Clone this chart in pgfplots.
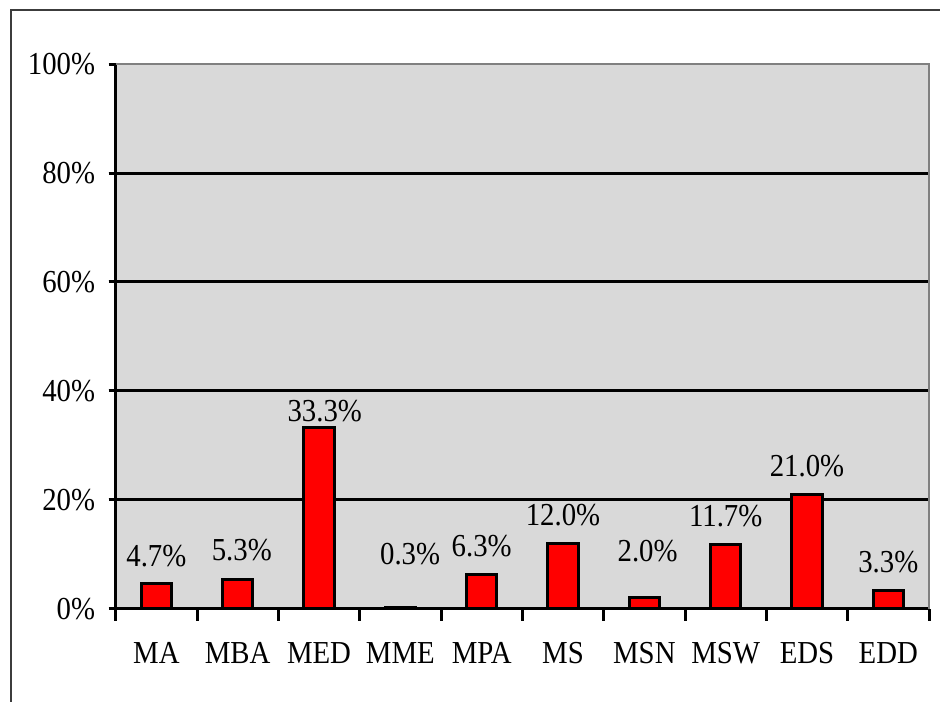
\documentclass[border=0pt]{standalone}
\usepackage{fontspec}
\setmainfont{Liberation Serif}[FakeStretch=0.9]
\usepackage{pgfplots}
\usepackage{pgfplotstable}
\pgfplotsset{compat=1.18}
\definecolor{plotbg}{RGB}{217,217,217}
\definecolor{framegray}{RGB}{60,60,60}
\definecolor{bordergray}{RGB}{128,128,128}
\pgfplotstableread{
x   v
0   4.7
1   5.3
2   33.3
3   0.3
4   6.3
5   12.0
6   2.0
7   11.7
8   21.0
9   3.3
}\bardata
\pgfplotstableread{
lx    ly     v
0.00  7.84   4.7
1.05  8.94   5.3
2.07  34.34  33.3
3.12  8.03   0.3
4.00  9.55   6.3
5.00  15.37  12.0
6.04  8.63   2.0
7.00  15.06  11.7
8.00  24.24  21.0
9.00  6.61   3.3
}\labeldata
\begin{document}
\begin{tikzpicture}
\path[use as bounding box] (0,0) rectangle (470bp,351bp);
\draw[framegray, line width=1bp] (5.5bp,0) -- (5.5bp,346bp) -- (470bp,346bp);
\begin{axis}[
  at={(57.85bp,46.65bp)}, anchor=south west,
  scale only axis, width=406.65bp, height=272.25bp,
  xmin=-0.5, xmax=9.5, ymin=0, ymax=100,
  axis background/.style={fill=plotbg},
  axis x line*=bottom, axis y line*=left,
  axis line style={-, black, line width=1.5bp},
  xtick={0,...,9},
  xticklabels={MA,MBA,MED,MME,MPA,MS,MSN,MSW,EDS,EDD},
  minor xtick={-0.5,0.5,...,9.5},
  ytick={0,20,...,100},
  yticklabel={\pgfmathprintnumber{\tick}\%},
  extra y ticks={20,40,60,80},
  extra y tick labels={},
  extra y tick style={grid=major},
  major grid style={black, line width=1.5bp},
  tick align=outside,
  major tick length=3.5bp,
  minor tick length=6bp,
  tick style={black, line width=1.5bp},
  major x tick style={draw=none},
  /pgf/number format/assume math mode=true,
  ticklabel style={font=\fontsize{16bp}{19bp}\selectfont},
  xticklabel style={yshift=-10bp},
  yticklabel style={xshift=-3.3bp},
  clip=false,
]
\addplot[ybar, bar width=15.2bp, fill=red, draw=black, line width=1.5bp] table[x=x, y=v] {\bardata};
\addplot[draw=none, mark=none, forget plot, point meta=explicit,
  nodes near coords={\pgfmathprintnumber[fixed,fixed zerofill,precision=1]{\pgfplotspointmeta}\%},
  every node near coord/.append style={anchor=base, text=black, inner sep=0pt,
    font=\fontsize{16bp}{19bp}\selectfont}]
  table[x=lx, y=ly, meta=v] {\labeldata};
\draw[bordergray, line width=1bp] (rel axis cs:0,1) -- (rel axis cs:1,1) -- (rel axis cs:1,0);
\end{axis}
\end{tikzpicture}
\end{document}
